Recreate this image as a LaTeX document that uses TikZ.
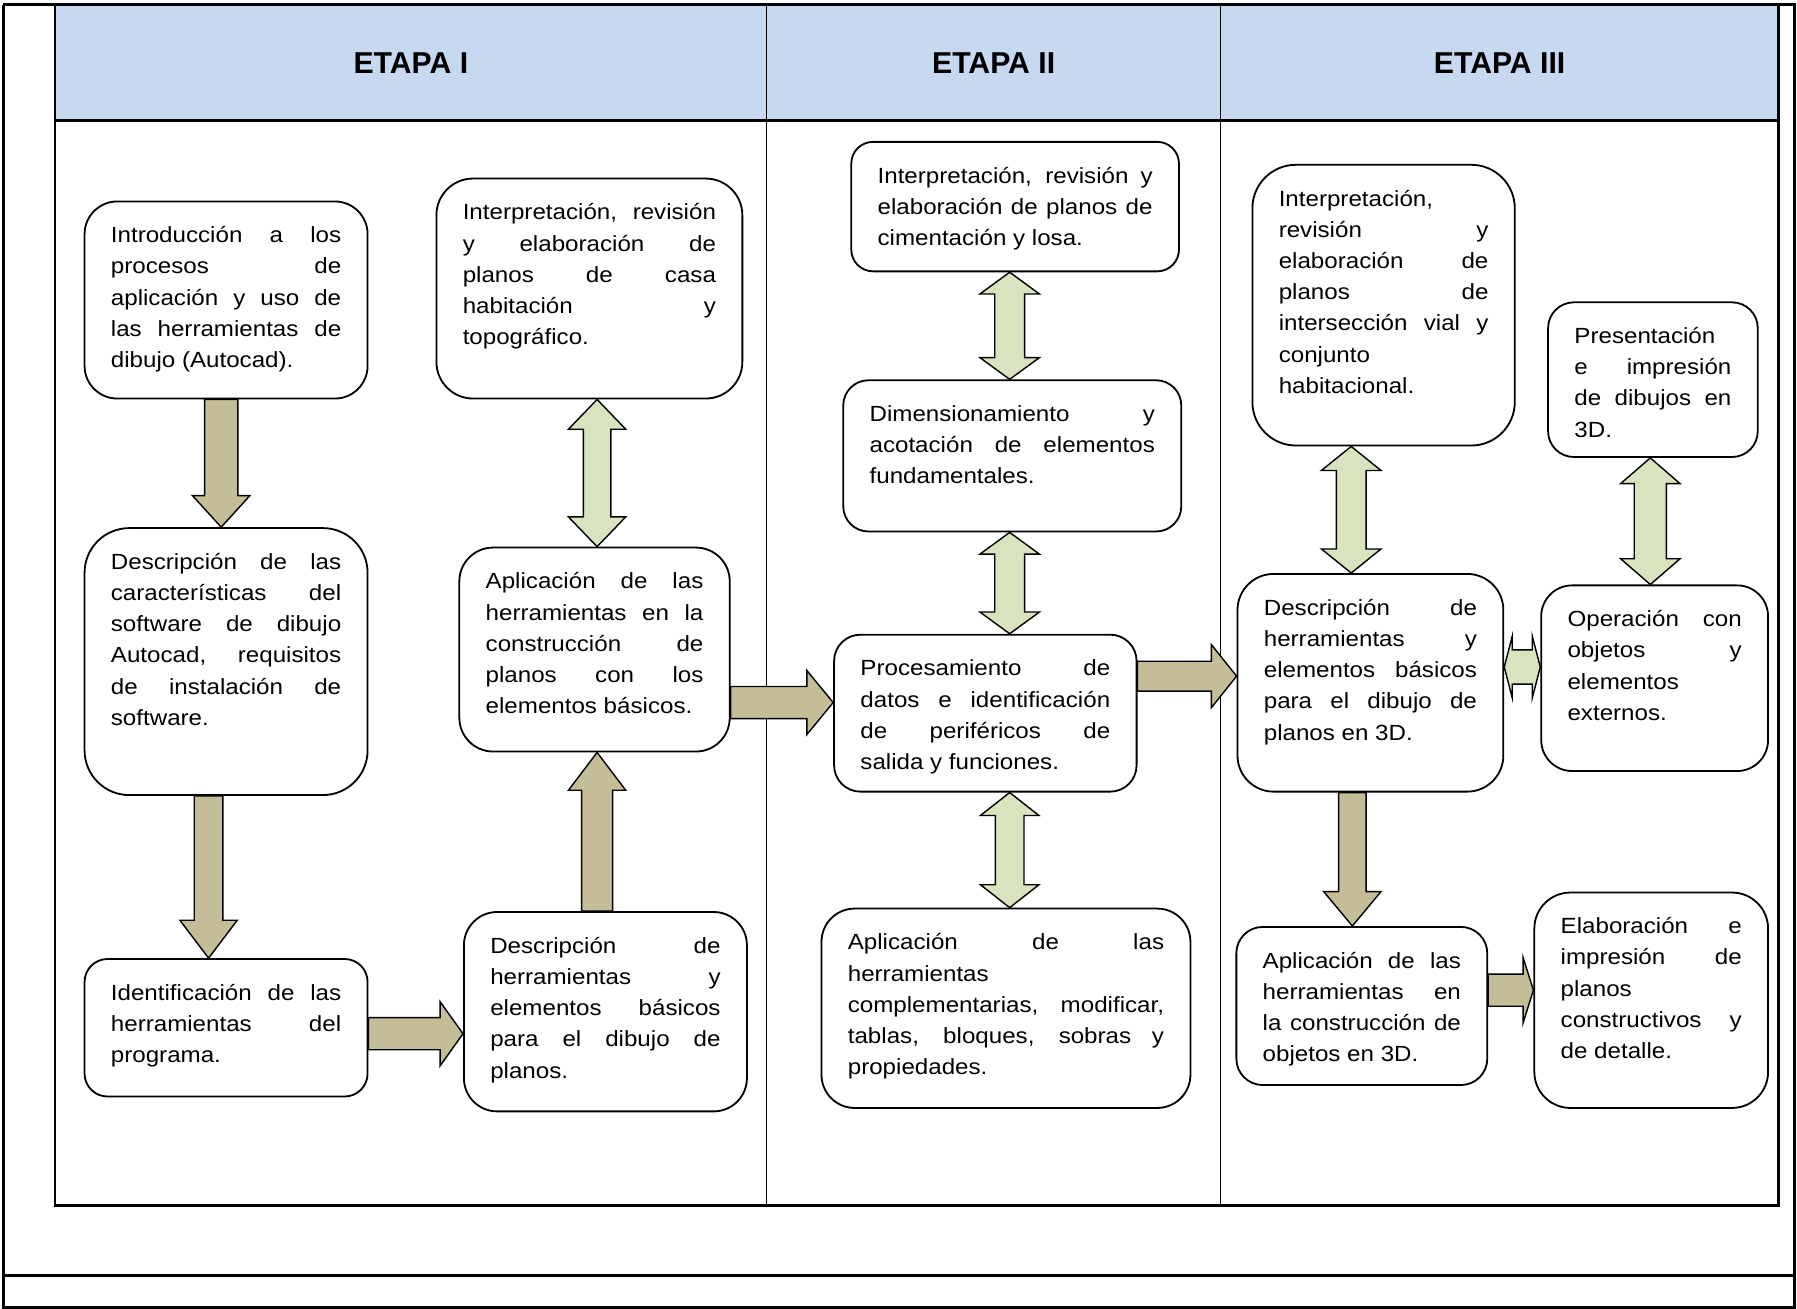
\documentclass[tikz,border=0pt]{standalone}
\usepackage{fontspec}
\usepackage{tikz}
\usetikzlibrary{calc}
\newfontfamily\cajafont{Liberation Sans}[FakeStretch=1.1]
\newfontfamily\etapafont{Liberation Sans}
\definecolor{azul}{HTML}{C6D9F0}
\definecolor{cafe}{HTML}{C4BD97}
\definecolor{verde}{HTML}{D7E4BD}
\tolerance=10000
\hyphenpenalty=10000
\exhyphenpenalty=10000
\hbadness=10000
\tikzset{
  caja/.style={draw, fill=white, line width=0.9pt, anchor=north west, align=justify, inner xsep=0.46cm, inner ysep=0.3cm, text height=0.42cm, font=\cajafont\fontsize{10.9}{15.5}\selectfont},
  etapa/.style={font=\etapafont\bfseries\fontsize{15}{18}\selectfont},
  flechacafe/.style={fill=cafe, draw=black, line width=0.7pt},
  flechaverde/.style={fill=verde, draw=black, line width=0.7pt},
  marco/.style={line width=1.3pt},
  division/.style={line width=0.5pt}
}
\def\flecha[#1](#2)(#3)(#4:#5:#6){\draw[#1] ($(#2)!#4!90:(#3)$) -- ($(#3)!#6!(#2)!#4!-90:(#2)$) -- ($(#3)!#6!(#2)!#5!-90:(#2)$) -- (#3) -- ($(#3)!#6!(#2)!#5!90:(#2)$) -- ($(#3)!#6!(#2)!#4!90:(#2)$) -- ($(#2)!#4!-90:(#3)$) -- cycle;}
\def\flechados[#1](#2)(#3)(#4:#5:#6){\draw[#1] (#2) -- ($(#2)!#6!(#3)!#5!90:(#3)$) -- ($(#2)!#6!(#3)!#4!90:(#3)$) -- ($(#3)!#6!(#2)!#4!-90:(#2)$) -- ($(#3)!#6!(#2)!#5!-90:(#2)$) -- (#3) -- ($(#3)!#6!(#2)!#5!90:(#2)$) -- ($(#3)!#6!(#2)!#4!90:(#2)$) -- ($(#2)!#6!(#3)!#4!-90:(#3)$) -- ($(#2)!#6!(#3)!#5!-90:(#3)$) -- cycle;}

\begin{document}
\begin{tikzpicture}[x=0.02cm, y=-0.02cm]
		%%%%% MARCO %%%%%
		\useasboundingbox (0,0) rectangle (1568,1142);
		
		\draw[marco] (3,4) -- (1566,4) -- (1566,1142);
		\draw[marco] (3,4) -- (3,1142);
		\draw[marco] (3,1113) -- (1566,1113);
		\draw[marco] (3,1141) -- (1566,1141);
		
		\fill[azul] (48,4) rectangle (1552,105);
		\draw[division] (669,4) -- (669,1052);
		\draw[division] (1065,4) -- (1065,1052);
		\draw[marco] (48,4) rectangle (1552,1052);
		\draw[marco] (48,105) -- (1552,105);
		
		\node[etapa] (e1) at (358.5,55) {ETAPA I};
		\node[etapa] (e2) at (867,55) {ETAPA II};
		\node[etapa] (e3) at (1308.5,55) {ETAPA III};
		
		%%%%% ETAPA I %%%%%
		\node[caja, text width=4.02cm, text depth=2.42cm, rounded corners=0.57cm] (intro) at (73,175) {Introducción a los\linebreak procesos de\linebreak aplicación y uso de\linebreak las herramientas de\linebreak dibujo (Autocad).};
		\node[caja, text width=4.42cm, text depth=2.82cm, rounded corners=0.64cm] (interp) at (380,155) {Interpretación, revisión\linebreak y elaboración de\linebreak planos de casa\linebreak habitación y\linebreak topográfico.};
		\node[caja, text width=4.02cm, text depth=3.64cm, rounded corners=0.78cm] (desc) at (73,460) {Descripción de las\linebreak características del\linebreak software de dibujo\linebreak Autocad, requisitos\linebreak de instalación de\linebreak software.};
		\node[caja, text width=3.80cm, text depth=2.54cm, rounded corners=0.59cm] (apli) at (400,477) {Aplicación de las\linebreak herramientas en la\linebreak construcción de\linebreak planos con los\linebreak elementos básicos.};
		\node[caja, text width=4.02cm, text depth=1.38cm, rounded corners=0.40cm] (iden) at (73,836) {Identificación de las\linebreak herramientas del\linebreak programa.};
		\node[caja, text width=4.02cm, text depth=2.46cm, rounded corners=0.58cm] (herr) at (404,795) {Descripción de\linebreak herramientas y\linebreak elementos básicos\linebreak para el dibujo de\linebreak planos.};
		
		\flecha[flechacafe](intro.south -| 193,0)(desc.north -| 193,0)(0.29cm:0.5cm:0.55cm);
		\flecha[flechacafe](desc.south -| 182,0)(iden.north -| 182,0)(0.25cm:0.5cm:0.66cm);
		\flecha[flechacafe](iden.east |- 0,902)(herr.west |- 0,902)(0.28cm:0.56cm:0.4cm);
		\flecha[flechacafe](herr.north -| 521,0)(apli.south -| 521,0)(0.27cm:0.5cm:0.66cm);
		\flechados[flechaverde](apli.north -| 521,0)(interp.south -| 521,0)(0.24cm:0.5cm:0.52cm);
		
		%%%%% ETAPA II %%%%%
		\node[caja, text width=4.80cm, text depth=1.24cm, rounded corners=0.38cm] (cim) at (742,123) {Interpretación, revisión y\linebreak elaboración de planos de\linebreak cimentación y losa.};
		\node[caja, text width=4.98cm, text depth=1.62cm, rounded corners=0.44cm] (dim) at (735,331) {Dimensionamiento y\linebreak acotación de elementos\linebreak fundamentales.};
		\node[caja, text width=4.36cm, text depth=1.72cm, rounded corners=0.46cm] (proc) at (727,553) {Procesamiento de\linebreak datos e identificación\linebreak de periféricos de\linebreak salida y funciones.};
		\node[caja, text width=5.52cm, text depth=2.46cm, rounded corners=0.58cm] (comp) at (716,792) {Aplicación de las\linebreak herramientas\linebreak complementarias, modificar,\linebreak tablas, bloques, sobras y\linebreak propiedades.};
		
		\flecha[flechacafe](apli.east |- 0,613)(proc.west |- 0,613)(0.28cm:0.56cm:0.46cm);
		\flechados[flechaverde](cim.south -| 881,0)(dim.north -| 881,0)(0.26cm:0.52cm:0.38cm);
		\flechados[flechaverde](dim.south -| 881,0)(proc.north -| 881,0)(0.26cm:0.52cm:0.38cm);
		\flechados[flechaverde](proc.south -| 881,0)(comp.north -| 881,0)(0.25cm:0.51cm:0.4cm);
		
		%%%%% ETAPA III %%%%%
		\node[caja, text width=3.66cm, text depth=3.88cm, rounded corners=0.76cm] (vial) at (1092,143) {Interpretación,\linebreak revisión y\linebreak elaboración de\linebreak planos de\linebreak intersección vial y\linebreak conjunto\linebreak habitacional.};
		\node[caja, text width=2.74cm, text depth=1.68cm, rounded corners=0.45cm] (pres) at (1350,263) {Presentación\linebreak e impresión\linebreak de dibujos en\linebreak 3D.};
		\node[caja, text width=3.72cm, text depth=2.78cm, rounded corners=0.63cm] (tres) at (1079,500) {Descripción de\linebreak herramientas y\linebreak elementos básicos\linebreak para el dibujo de\linebreak planos en 3D.};
		\node[caja, text width=3.04cm, text depth=2.22cm, rounded corners=0.54cm] (oper) at (1344,510) {Operación con\linebreak objetos y\linebreak elementos\linebreak externos.};
		\node[caja, text width=3.46cm, text depth=1.74cm, rounded corners=0.46cm] (obj) at (1078,808) {Aplicación de las\linebreak herramientas en\linebreak la construcción de\linebreak objetos en 3D.};
		\node[caja, text width=3.16cm, text depth=2.74cm, rounded corners=0.63cm] (elab) at (1338,778) {Elaboración e\linebreak impresión de\linebreak planos\linebreak constructivos y\linebreak de detalle.};
		
		\flecha[flechacafe](proc.east |- 0,590)(tres.west |- 0,590)(0.26cm:0.55cm:0.44cm);
		\flechados[flechaverde](vial.south -| 1179,0)(tres.north -| 1179,0)(0.26cm:0.52cm:0.42cm);
		\flechados[flechaverde](pres.south -| 1440,0)(oper.north -| 1440,0)(0.28cm:0.52cm:0.45cm);
		\flechados[flechaverde](tres.east |- 0,582)(oper.west |- 0,582)(0.3cm:0.54cm:0.14cm);
		\flecha[flechacafe](tres.south -| 1180,0)(obj.north -| 1180,0)(0.24cm:0.5cm:0.6cm);
		\flecha[flechacafe](obj.east |- 0,864)(elab.west |- 0,864)(0.28cm:0.57cm:0.18cm);
		
		%%%%% FIN %%%%%
\end{tikzpicture}
\end{document}
